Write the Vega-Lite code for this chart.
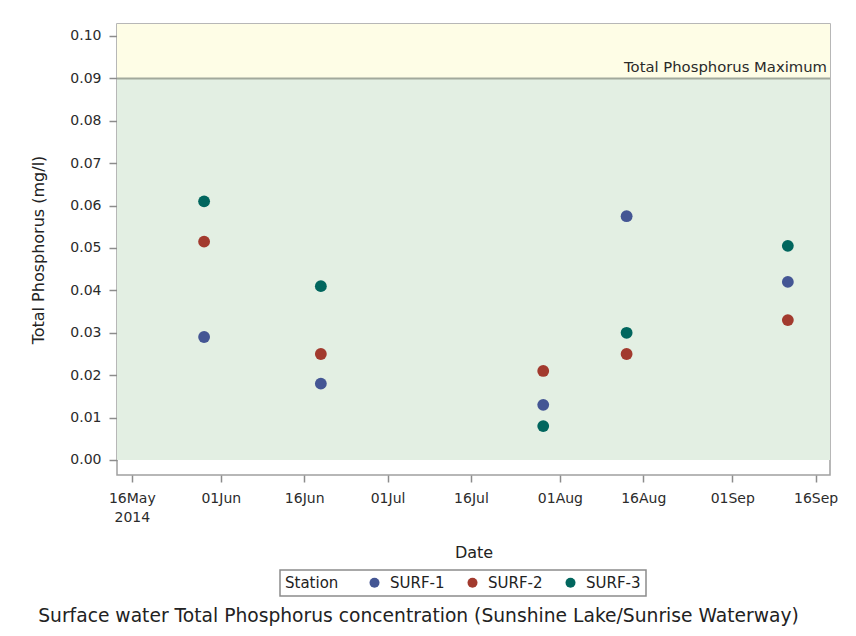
{
  "$schema": "https://vega.github.io/schema/vega-lite/v6.json",
  "width": 713,
  "height": 451,
  "autosize": {"type": "none"},
  "padding": {"left": 117, "top": 24, "right": 26, "bottom": 161},
  "background": "white",
  "title": {
    "text": "Surface water Total Phosphorus concentration (Sunshine Lake/Sunrise Waterway)",
    "orient": "bottom",
    "anchor": "middle",
    "offset": 10,
    "dx": -55,
    "fontSize": 18.7,
    "fontWeight": "normal",
    "font": "DejaVu Sans",
    "color": "#222222"
  },
  "datasets": {
    "bands": [
      {"zone": "below", "lo": 0, "hi": 0.09},
      {"zone": "above", "lo": 0.09, "hi": 0.10283}
    ],
    "limit": [
      {"label": "Total Phosphorus Maximum", "value": 0.09, "date": "2014-09-18T14:00:00"}
    ],
    "samples": [
      {"date": "2014-05-29T00:00:00", "station": "SURF-1", "tp": 0.029},
      {"date": "2014-05-29T00:00:00", "station": "SURF-2", "tp": 0.0515},
      {"date": "2014-05-29T00:00:00", "station": "SURF-3", "tp": 0.061},
      {"date": "2014-06-19T00:00:00", "station": "SURF-1", "tp": 0.018},
      {"date": "2014-06-19T00:00:00", "station": "SURF-2", "tp": 0.025},
      {"date": "2014-06-19T00:00:00", "station": "SURF-3", "tp": 0.041},
      {"date": "2014-07-29T00:00:00", "station": "SURF-1", "tp": 0.013},
      {"date": "2014-07-29T00:00:00", "station": "SURF-2", "tp": 0.021},
      {"date": "2014-07-29T00:00:00", "station": "SURF-3", "tp": 0.008},
      {"date": "2014-08-13T00:00:00", "station": "SURF-1", "tp": 0.0575},
      {"date": "2014-08-13T00:00:00", "station": "SURF-2", "tp": 0.025},
      {"date": "2014-08-13T00:00:00", "station": "SURF-3", "tp": 0.030},
      {"date": "2014-09-11T00:00:00", "station": "SURF-1", "tp": 0.042},
      {"date": "2014-09-11T00:00:00", "station": "SURF-2", "tp": 0.033},
      {"date": "2014-09-11T00:00:00", "station": "SURF-3", "tp": 0.0505}
    ]
  },
  "layer": [
    {
      "data": {"name": "bands"},
      "transform": [{"filter": "datum.zone === 'below'"}],
      "mark": {"type": "rect", "color": "#e3efe3", "opacity": 1},
      "encoding": {
        "y": {"field": "lo", "type": "quantitative"},
        "y2": {"field": "hi"}
      }
    },
    {
      "data": {"name": "bands"},
      "transform": [{"filter": "datum.zone === 'above'"}],
      "mark": {"type": "rect", "color": "#fefde6", "opacity": 1},
      "encoding": {
        "y": {"field": "lo", "type": "quantitative"},
        "y2": {"field": "hi"}
      }
    },
    {
      "data": {"name": "limit"},
      "mark": {"type": "rule", "color": "#a2a99c", "strokeWidth": 2},
      "encoding": {
        "y": {"field": "value", "type": "quantitative"}
      }
    },
    {
      "data": {"name": "limit"},
      "mark": {
        "type": "text",
        "align": "right",
        "baseline": "bottom",
        "dx": -3,
        "dy": -3,
        "font": "DejaVu Sans",
        "fontSize": 14.8,
        "color": "#2a2a2a"
      },
      "encoding": {
        "x": {"field": "date", "type": "temporal"},
        "y": {"field": "value", "type": "quantitative"},
        "text": {"field": "label"}
      }
    },
    {
      "data": {"name": "samples"},
      "mark": {"type": "circle", "size": 140, "opacity": 1},
      "encoding": {
        "x": {
          "field": "date",
          "type": "temporal",
          "title": "Date",
          "scale": {
            "domain": [
              {"year": 2014, "month": 5, "date": 13, "hours": 8},
              {"year": 2014, "month": 9, "date": 18, "hours": 14}
            ]
          },
          "axis": {
            "values": [
              {"year": 2014, "month": 5, "date": 16},
              {"year": 2014, "month": 6, "date": 1},
              {"year": 2014, "month": 6, "date": 16},
              {"year": 2014, "month": 7, "date": 1},
              {"year": 2014, "month": 7, "date": 16},
              {"year": 2014, "month": 8, "date": 1},
              {"year": 2014, "month": 8, "date": 16},
              {"year": 2014, "month": 9, "date": 1},
              {"year": 2014, "month": 9, "date": 16}
            ],
            "labelExpr": "month(datum.value) === 4 && date(datum.value) === 16 ? [timeFormat(datum.value, '%d%b'), timeFormat(datum.value, '%Y')] : timeFormat(datum.value, '%d%b')",
            "labelLineHeight": 19,
            "labelPadding": 9,
            "tickSize": 7,
            "titlePadding": 20
          }
        },
        "y": {
          "field": "tp",
          "type": "quantitative",
          "title": "Total Phosphorus (mg/l)",
          "scale": {"domain": [-0.00354, 0.10283], "nice": false, "zero": false},
          "axis": {
            "values": [0, 0.01, 0.02, 0.03, 0.04, 0.05, 0.06, 0.07, 0.08, 0.09, 0.1],
            "format": ".2f",
            "tickSize": 8,
            "labelPadding": 8,
            "titlePadding": 23
          }
        },
        "color": {
          "field": "station",
          "type": "nominal",
          "title": "Station",
          "scale": {
            "domain": ["SURF-1", "SURF-2", "SURF-3"],
            "range": ["#445694", "#a23a2e", "#01665e"]
          },
          "legend": {
            "orient": "none",
            "direction": "horizontal",
            "legendX": 163,
            "legendY": 546,
            "titleOrient": "left",
            "symbolType": "circle",
            "symbolSize": 100,
            "symbolStrokeWidth": 0,
            "symbolOpacity": 1
          }
        }
      }
    }
  ],
  "config": {
    "font": "DejaVu Sans",
    "view": {"stroke": "#a0a0a0", "strokeWidth": 1.5},
    "axis": {
      "domain": false,
      "grid": false,
      "tickColor": "#8c8c8c",
      "tickWidth": 1.5,
      "labelFont": "DejaVu Sans",
      "labelFontSize": 14,
      "labelColor": "#2b2b2b",
      "titleFont": "DejaVu Sans",
      "titleFontSize": 16,
      "titleFontWeight": "normal",
      "titleColor": "#222222"
    },
    "legend": {
      "strokeColor": "#8c8c8c",
      "strokeWidth": 1.5,
      "padding": 5,
      "titleFont": "DejaVu Sans",
      "titleFontSize": 15,
      "titleFontWeight": "normal",
      "titleColor": "#222222",
      "titlePadding": 28,
      "labelFont": "DejaVu Sans",
      "labelFontSize": 15,
      "labelColor": "#222222",
      "labelOffset": 8,
      "columnPadding": 20
    }
  }
}
